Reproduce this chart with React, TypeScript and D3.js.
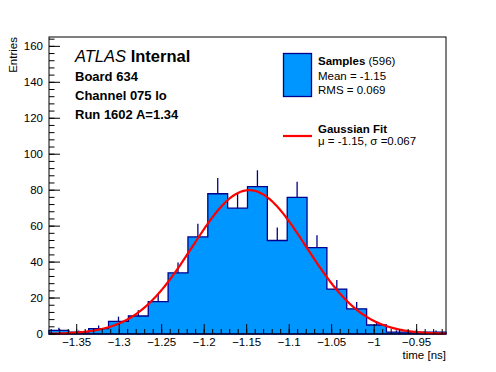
import React from 'react';
import * as d3 from 'd3';

// histogram contents (20 bins)
const binCounts = [2, 1, 3, 7, 10, 18, 34, 54, 78, 70, 82, 52, 76, 48, 25, 14, 5, 1, 1, 1];
const xRange = [-1.3826, -0.9155];
const xTickValues = [-1.35, -1.3, -1.25, -1.2, -1.15, -1.1, -1.05, -1, -0.95];
const xTickLabels = ['\u22121.35', '\u22121.3', '\u22121.25', '\u22121.2', '\u22121.15', '\u22121.1', '\u22121.05', '\u22121', '\u22120.95'];
const yTickValues = [0, 20, 40, 60, 80, 100, 120, 140, 160];
const yMax = 165.2;
// gaussian fit parameters
const fitMean = -1.147;
const fitSigma = 0.067;
const fitAmp = 80;

const W = 496, H = 372;
const left = 49, right = 446, top = 37, bottom = 334;
const font = '"Liberation Sans", Arial, Helvetica, sans-serif';
const fillColor = '#0096ff';
const lineColor = '#00008c';

export default function App() {
  const x = d3.scaleLinear().domain(xRange).range([left, right]);
  const y = d3.scaleLinear().domain([0, yMax]).range([bottom, top]);

  const bw = (xRange[1] - xRange[0]) / binCounts.length;
  const edges = binCounts.map((_, i) => xRange[0] + i * bw);

  // step outline
  let d = `M${x(xRange[0])},${y(0)}`;
  binCounts.forEach((c, i) => {
    d += `L${x(edges[i])},${y(c)}L${x(edges[i] + bw)},${y(c)}`;
  });
  d += `L${x(xRange[1])},${y(0)}Z`;

  const fitX = d3.range(0, 401).map(i => xRange[0] + (xRange[1] - xRange[0]) * i / 400);
  const fitLine = d3.line<number>()
    .x(v => x(v))
    .y(v => y(fitAmp * Math.exp(-0.5 * ((v - fitMean) / fitSigma) ** 2)))
    .curve(d3.curveLinear);

  const xMinor = d3.range(-1.38, -0.915, 0.01).filter(v => v >= xRange[0] - 1e-9);
  const yMinor = d3.range(0, yMax, 4);

  return (
    <svg width={W} height={H} style={{ position: 'absolute', left: 0, top: 0, background: '#fff' }}
      fontFamily={font}>
      <rect x={0} y={0} width={W} height={H} fill="#fff" />

      {/* error bars (drawn below the fill, only upper half shows) */}
      {binCounts.map((c, i) => (
        <line key={'e' + i} x1={x(edges[i] + bw / 2)} x2={x(edges[i] + bw / 2)}
          y1={y(c - Math.sqrt(c))} y2={y(c + Math.sqrt(c))} stroke={lineColor} strokeWidth={1.3} />
      ))}
      <path d={d} fill={fillColor} stroke={lineColor} strokeWidth={1.3} />

      <path d={fitLine(fitX) || ''} fill="none" stroke="#ff0000" strokeWidth={2.2} />

      {/* frame */}
      <rect x={left} y={top} width={right - left} height={bottom - top} fill="none" stroke="#000" strokeWidth={1} />

      {/* x ticks */}
      {xMinor.map((v, i) => (
        <line key={'xm' + i} x1={x(v)} x2={x(v)} y1={bottom} y2={bottom - 5} stroke="#000" />
      ))}
      {xTickValues.map((v, i) => (
        <g key={'xt' + i}>
          <line x1={x(v)} x2={x(v)} y1={bottom} y2={bottom - 10} stroke="#000" />
          <text x={x(v)} y={346} fontSize={11.5} textAnchor="middle">{xTickLabels[i]}</text>
        </g>
      ))}
      <text x={right} y={359} fontSize={11.5} textAnchor="end">time [ns]</text>

      {/* y ticks */}
      {yMinor.map((v, i) => (
        <line key={'ym' + i} x1={left} x2={left + 5.5} y1={y(v)} y2={y(v)} stroke="#000" />
      ))}
      {yTickValues.map((v, i) => (
        <g key={'yt' + i}>
          <line x1={left} x2={left + 11} y1={y(v)} y2={y(v)} stroke="#000" />
          <text x={43} y={y(v) + 4} fontSize={11.5} textAnchor="end">{v}</text>
        </g>
      ))}
      <text transform={`translate(17,${top}) rotate(-90)`} fontSize={11.5} textAnchor="end">Entries</text>

      {/* labels */}
      <text x={75} y={62} fontSize={16.5}>
        <tspan fontStyle="italic">ATLAS</tspan>
        <tspan fontWeight="bold"> Internal</tspan>
      </text>
      <text x={75} y={81} fontSize={13} fontWeight="bold">Board 634</text>
      <text x={75} y={100} fontSize={13} fontWeight="bold">Channel 075 lo</text>
      <text x={75} y={118.5} fontSize={13} fontWeight="bold">Run 1602 A=1.34</text>

      {/* legend */}
      <rect x={283.5} y={53.5} width={28} height={43} fill={fillColor} stroke={lineColor} strokeWidth={1.3} />
      <text x={318} y={65} fontSize={11.5}>
        <tspan fontWeight="bold">Samples</tspan>
        <tspan> (596)</tspan>
      </text>
      <text x={318} y={79.5} fontSize={11.5}>Mean = -1.15</text>
      <text x={318} y={93.5} fontSize={11.5}>RMS = 0.069</text>
      <line x1={283} x2={312} y1={136} y2={136} stroke="#ff0000" strokeWidth={2.2} />
      <text x={318} y={132.5} fontSize={11.5} fontWeight="bold">Gaussian Fit</text>
      <text x={318} y={145} fontSize={11.5}>{'\u03bc = -1.15, \u03c3 =0.067'}</text>
    </svg>
  );
}
